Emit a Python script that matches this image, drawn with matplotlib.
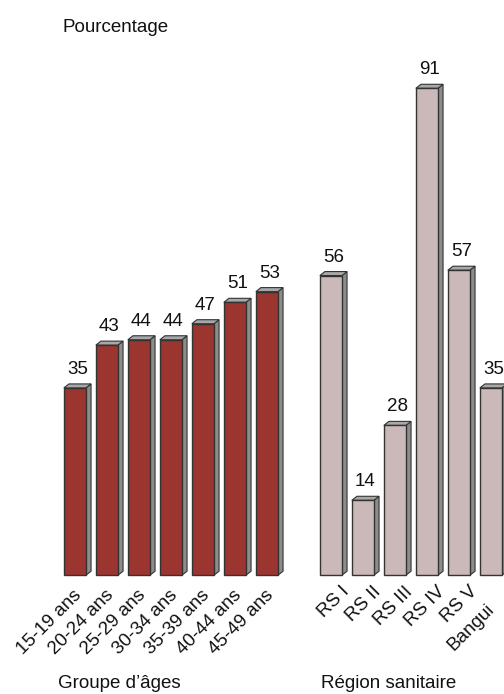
import matplotlib
matplotlib.use('Agg')
import matplotlib.pyplot as plt
from matplotlib.patches import Polygon

plt.rcParams['font.family'] = ['Liberation Sans', 'DejaVu Sans']

age_groups = ['15-19 ans', '20-24 ans', '25-29 ans', '30-34 ans',
              '35-39 ans', '40-44 ans', '45-49 ans']
age_values = [35, 43, 44, 44, 47, 51, 53]
regions = ['RS I', 'RS II', 'RS III', 'RS IV', 'RS V', 'Bangui']
region_values = [56, 14, 28, 91, 57, 35]

age_pos = list(range(len(age_groups)))
region_pos = [8 + i for i in range(len(regions))]

fig = plt.figure(figsize=(5.04, 6.94), dpi=100)
ax = fig.add_axes([0, 0, 1, 1])
ax.set_xlim(-2.34, 13.41)
ax.set_ylim(-22.2, 107.5)
ax.axis('off')

w = 0.69
dx = 0.16
dy = 0.75
edge = '#333333'


def bar3d(x, v, front, side, top):
    ax.bar(x, v, width=w, color=front, edgecolor=edge, linewidth=1.0, zorder=3)
    r = x + w / 2
    l = x - w / 2
    ax.add_patch(Polygon([[r, 0], [r + dx, dy], [r + dx, v + dy], [r, v]],
                         closed=True, facecolor=side, edgecolor=edge,
                         linewidth=0.8, zorder=2))
    ax.add_patch(Polygon([[l, v], [l + dx, v + dy], [r + dx, v + dy], [r, v]],
                         closed=True, facecolor=top, edgecolor=edge,
                         linewidth=0.8, zorder=2))
    ax.text(x + dx / 2, v + dy + 1.1, f'{v}', ha='center', va='bottom',
            fontsize=13.5, color='#111111')


for x, v in zip(age_pos, age_values):
    bar3d(x, v, '#9a3530', '#8c8c8c', '#a8a8a8')
for x, v in zip(region_pos, region_values):
    bar3d(x, v, '#cbb8b8', '#8c8c8c', '#a8a8a8')

for x, lab in zip(age_pos, age_groups):
    ax.text(x - 0.05, -2.2, lab, rotation=45, rotation_mode='anchor',
            ha='right', va='top', fontsize=13.5, color='#111111')
for i, (x, lab) in enumerate(zip(region_pos, regions)):
    last = i == len(regions) - 1
    xoff = -0.15 if last else 0.3
    yoff = -4.8 if last else -1.5
    ax.text(x + xoff, yoff, lab, rotation=45, rotation_mode='anchor',
            ha='right', va='top', fontsize=13.5, color='#111111')

ax.text(-0.375, 102.4, 'Pourcentage', ha='left', va='center', fontsize=13.5,
        color='#111111')
ax.text(1.4, -20.2, 'Groupe d’âges', ha='center', va='center', fontsize=13.5,
        color='#111111')
ax.text(9.8, -20.2, 'Région sanitaire', ha='center', va='center', fontsize=13.5,
        color='#111111')

fig.savefig('out.png', dpi=100)
